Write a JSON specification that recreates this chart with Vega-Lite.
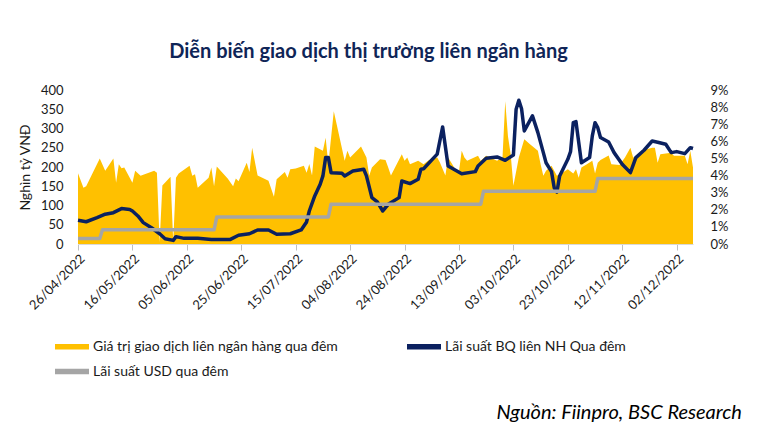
{
  "$schema": "https://vega.github.io/schema/vega-lite/v6.json",
  "padding": {"left": 18, "top": 42, "right": 5, "bottom": 5},
  "autosize": {"type": "pad"},
  "config": {"view": {"stroke": null}, "font": "Lato"},
  "datasets": {
    "vol": [
      {"date":"2022-04-26","value":184},{"date":"2022-04-28","value":146},{"date":"2022-04-29","value":150},
      {"date":"2022-05-04","value":222},{"date":"2022-05-06","value":190},{"date":"2022-05-09","value":222},
      {"date":"2022-05-10","value":159},{"date":"2022-05-11","value":207},{"date":"2022-05-12","value":197},
      {"date":"2022-05-13","value":199},{"date":"2022-05-16","value":159},{"date":"2022-05-17","value":190},
      {"date":"2022-05-19","value":177},{"date":"2022-05-24","value":190},{"date":"2022-05-25","value":185},
      {"date":"2022-05-26","value":5},{"date":"2022-05-27","value":152},{"date":"2022-05-30","value":175},
      {"date":"2022-05-31","value":5},{"date":"2022-06-01","value":172},{"date":"2022-06-02","value":183},
      {"date":"2022-06-06","value":203},{"date":"2022-06-07","value":177},{"date":"2022-06-08","value":181},
      {"date":"2022-06-09","value":146},{"date":"2022-06-13","value":172},{"date":"2022-06-14","value":199},
      {"date":"2022-06-15","value":150},{"date":"2022-06-16","value":201},{"date":"2022-06-20","value":170},
      {"date":"2022-06-22","value":150},{"date":"2022-06-23","value":170},{"date":"2022-06-24","value":163},
      {"date":"2022-06-27","value":211},{"date":"2022-06-28","value":187},{"date":"2022-06-29","value":250},
      {"date":"2022-07-01","value":178},{"date":"2022-07-05","value":164},{"date":"2022-07-07","value":123},
      {"date":"2022-07-08","value":168},{"date":"2022-07-11","value":187},{"date":"2022-07-12","value":172},
      {"date":"2022-07-13","value":194},{"date":"2022-07-15","value":196},{"date":"2022-07-18","value":203},
      {"date":"2022-07-19","value":185},{"date":"2022-07-20","value":208},{"date":"2022-07-21","value":178},
      {"date":"2022-07-22","value":253},{"date":"2022-07-25","value":242},{"date":"2022-07-26","value":276},
      {"date":"2022-07-27","value":207},{"date":"2022-07-29","value":345},{"date":"2022-08-02","value":216},
      {"date":"2022-08-03","value":242},{"date":"2022-08-04","value":225},{"date":"2022-08-05","value":232},
      {"date":"2022-08-08","value":253},{"date":"2022-08-10","value":225},{"date":"2022-08-11","value":177},
      {"date":"2022-08-12","value":199},{"date":"2022-08-15","value":220},{"date":"2022-08-17","value":218},
      {"date":"2022-08-18","value":199},{"date":"2022-08-19","value":178},{"date":"2022-08-23","value":233},
      {"date":"2022-08-24","value":216},{"date":"2022-08-25","value":225},{"date":"2022-08-26","value":207},
      {"date":"2022-08-29","value":216},{"date":"2022-08-31","value":207},{"date":"2022-09-02","value":218},
      {"date":"2022-09-05","value":225},{"date":"2022-09-06","value":212},{"date":"2022-09-08","value":178},
      {"date":"2022-09-09","value":225},{"date":"2022-09-12","value":190},{"date":"2022-09-13","value":188},
      {"date":"2022-09-14","value":242},{"date":"2022-09-15","value":225},{"date":"2022-09-16","value":216},
      {"date":"2022-09-20","value":229},{"date":"2022-09-21","value":216},{"date":"2022-09-23","value":229},
      {"date":"2022-09-27","value":216},{"date":"2022-09-29","value":225},{"date":"2022-09-30","value":371},
      {"date":"2022-10-01","value":280},{"date":"2022-10-02","value":233},{"date":"2022-10-03","value":151},
      {"date":"2022-10-05","value":225},{"date":"2022-10-07","value":272},{"date":"2022-10-09","value":260},
      {"date":"2022-10-12","value":242},{"date":"2022-10-13","value":207},{"date":"2022-10-14","value":177},
      {"date":"2022-10-15","value":190},{"date":"2022-10-17","value":203},{"date":"2022-10-19","value":177},
      {"date":"2022-10-21","value":185},{"date":"2022-10-23","value":194},{"date":"2022-10-25","value":183},
      {"date":"2022-10-26","value":194},{"date":"2022-10-27","value":172},{"date":"2022-10-28","value":199},
      {"date":"2022-10-30","value":207},{"date":"2022-11-01","value":216},{"date":"2022-11-02","value":183},
      {"date":"2022-11-03","value":211},{"date":"2022-11-04","value":218},{"date":"2022-11-07","value":230},
      {"date":"2022-11-08","value":207},{"date":"2022-11-11","value":205},{"date":"2022-11-13","value":225},
      {"date":"2022-11-15","value":250},{"date":"2022-11-16","value":225},{"date":"2022-11-18","value":229},
      {"date":"2022-11-19","value":242},{"date":"2022-11-23","value":250},{"date":"2022-11-24","value":250},
      {"date":"2022-11-25","value":211},{"date":"2022-11-26","value":233},{"date":"2022-11-30","value":237},
      {"date":"2022-12-01","value":229},{"date":"2022-12-05","value":229},{"date":"2022-12-06","value":207},
      {"date":"2022-12-07","value":242},{"date":"2022-12-08","value":199}
    ],
    "rate": [
      {"date":"2022-04-26","rate":1.39,"series":"Lãi suất BQ liên NH Qua đêm"},
      {"date":"2022-04-29","rate":1.30,"series":"Lãi suất BQ liên NH Qua đêm"},
      {"date":"2022-05-03","rate":1.54,"series":"Lãi suất BQ liên NH Qua đêm"},
      {"date":"2022-05-06","rate":1.74,"series":"Lãi suất BQ liên NH Qua đêm"},
      {"date":"2022-05-09","rate":1.83,"series":"Lãi suất BQ liên NH Qua đêm"},
      {"date":"2022-05-12","rate":2.07,"series":"Lãi suất BQ liên NH Qua đêm"},
      {"date":"2022-05-15","rate":2.02,"series":"Lãi suất BQ liên NH Qua đêm"},
      {"date":"2022-05-16","rate":1.93,"series":"Lãi suất BQ liên NH Qua đêm"},
      {"date":"2022-05-18","rate":1.64,"series":"Lãi suất BQ liên NH Qua đêm"},
      {"date":"2022-05-20","rate":1.25,"series":"Lãi suất BQ liên NH Qua đêm"},
      {"date":"2022-05-23","rate":0.95,"series":"Lãi suất BQ liên NH Qua đêm"},
      {"date":"2022-05-26","rate":0.60,"series":"Lãi suất BQ liên NH Qua đêm"},
      {"date":"2022-05-28","rate":0.31,"series":"Lãi suất BQ liên NH Qua đêm"},
      {"date":"2022-05-31","rate":0.21,"series":"Lãi suất BQ liên NH Qua đêm"},
      {"date":"2022-06-01","rate":0.43,"series":"Lãi suất BQ liên NH Qua đêm"},
      {"date":"2022-06-04","rate":0.33,"series":"Lãi suất BQ liên NH Qua đêm"},
      {"date":"2022-06-09","rate":0.33,"series":"Lãi suất BQ liên NH Qua đêm"},
      {"date":"2022-06-14","rate":0.27,"series":"Lãi suất BQ liên NH Qua đêm"},
      {"date":"2022-06-21","rate":0.27,"series":"Lãi suất BQ liên NH Qua đêm"},
      {"date":"2022-06-24","rate":0.51,"series":"Lãi suất BQ liên NH Qua đêm"},
      {"date":"2022-06-28","rate":0.60,"series":"Lãi suất BQ liên NH Qua đêm"},
      {"date":"2022-07-01","rate":0.82,"series":"Lãi suất BQ liên NH Qua đêm"},
      {"date":"2022-07-05","rate":0.82,"series":"Lãi suất BQ liên NH Qua đêm"},
      {"date":"2022-07-08","rate":0.57,"series":"Lãi suất BQ liên NH Qua đêm"},
      {"date":"2022-07-13","rate":0.60,"series":"Lãi suất BQ liên NH Qua đêm"},
      {"date":"2022-07-17","rate":0.82,"series":"Lãi suất BQ liên NH Qua đêm"},
      {"date":"2022-07-19","rate":1.29,"series":"Lãi suất BQ liên NH Qua đêm"},
      {"date":"2022-07-20","rate":1.93,"series":"Lãi suất BQ liên NH Qua đêm"},
      {"date":"2022-07-22","rate":2.81,"series":"Lãi suất BQ liên NH Qua đêm"},
      {"date":"2022-07-24","rate":3.49,"series":"Lãi suất BQ liên NH Qua đêm"},
      {"date":"2022-07-25","rate":3.98,"series":"Lãi suất BQ liên NH Qua đêm"},
      {"date":"2022-07-26","rate":5.05,"series":"Lãi suất BQ liên NH Qua đêm"},
      {"date":"2022-07-27","rate":5.05,"series":"Lãi suất BQ liên NH Qua đêm"},
      {"date":"2022-07-28","rate":4.17,"series":"Lãi suất BQ liên NH Qua đêm"},
      {"date":"2022-08-01","rate":4.13,"series":"Lãi suất BQ liên NH Qua đêm"},
      {"date":"2022-08-02","rate":3.98,"series":"Lãi suất BQ liên NH Qua đêm"},
      {"date":"2022-08-05","rate":4.27,"series":"Lãi suất BQ liên NH Qua đêm"},
      {"date":"2022-08-09","rate":4.37,"series":"Lãi suất BQ liên NH Qua đêm"},
      {"date":"2022-08-10","rate":3.98,"series":"Lãi suất BQ liên NH Qua đêm"},
      {"date":"2022-08-12","rate":2.71,"series":"Lãi suất BQ liên NH Qua đêm"},
      {"date":"2022-08-14","rate":2.46,"series":"Lãi suất BQ liên NH Qua đêm"},
      {"date":"2022-08-16","rate":1.93,"series":"Lãi suất BQ liên NH Qua đêm"},
      {"date":"2022-08-18","rate":2.32,"series":"Lãi suất BQ liên NH Qua đêm"},
      {"date":"2022-08-22","rate":2.71,"series":"Lãi suất BQ liên NH Qua đêm"},
      {"date":"2022-08-23","rate":3.68,"series":"Lãi suất BQ liên NH Qua đêm"},
      {"date":"2022-08-26","rate":3.53,"series":"Lãi suất BQ liên NH Qua đêm"},
      {"date":"2022-08-29","rate":3.78,"series":"Lãi suất BQ liên NH Qua đêm"},
      {"date":"2022-08-30","rate":4.37,"series":"Lãi suất BQ liên NH Qua đêm"},
      {"date":"2022-08-31","rate":4.40,"series":"Lãi suất BQ liên NH Qua đêm"},
      {"date":"2022-09-05","rate":5.25,"series":"Lãi suất BQ liên NH Qua đêm"},
      {"date":"2022-09-07","rate":6.84,"series":"Lãi suất BQ liên NH Qua đêm"},
      {"date":"2022-09-09","rate":4.56,"series":"Lãi suất BQ liên NH Qua đêm"},
      {"date":"2022-09-14","rate":4.11,"series":"Lãi suất BQ liên NH Qua đêm"},
      {"date":"2022-09-19","rate":4.23,"series":"Lãi suất BQ liên NH Qua đêm"},
      {"date":"2022-09-20","rate":4.56,"series":"Lãi suất BQ liên NH Qua đêm"},
      {"date":"2022-09-23","rate":5.01,"series":"Lãi suất BQ liên NH Qua đêm"},
      {"date":"2022-09-27","rate":5.09,"series":"Lãi suất BQ liên NH Qua đêm"},
      {"date":"2022-09-30","rate":4.89,"series":"Lãi suất BQ liên NH Qua đêm"},
      {"date":"2022-10-03","rate":5.20,"series":"Lãi suất BQ liên NH Qua đêm"},
      {"date":"2022-10-04","rate":7.88,"series":"Lãi suất BQ liên NH Qua đêm"},
      {"date":"2022-10-05","rate":8.40,"series":"Lãi suất BQ liên NH Qua đêm"},
      {"date":"2022-10-06","rate":7.90,"series":"Lãi suất BQ liên NH Qua đêm"},
      {"date":"2022-10-07","rate":6.61,"series":"Lãi suất BQ liên NH Qua đêm"},
      {"date":"2022-10-10","rate":7.49,"series":"Lãi suất BQ liên NH Qua đêm"},
      {"date":"2022-10-12","rate":6.51,"series":"Lãi suất BQ liên NH Qua đêm"},
      {"date":"2022-10-14","rate":5.34,"series":"Lãi suất BQ liên NH Qua đêm"},
      {"date":"2022-10-15","rate":4.75,"series":"Lãi suất BQ liên NH Qua đêm"},
      {"date":"2022-10-17","rate":4.23,"series":"Lãi suất BQ liên NH Qua đêm"},
      {"date":"2022-10-18","rate":3.29,"series":"Lãi suất BQ liên NH Qua đêm"},
      {"date":"2022-10-19","rate":3.04,"series":"Lãi suất BQ liên NH Qua đêm"},
      {"date":"2022-10-20","rate":3.98,"series":"Lãi suất BQ liên NH Qua đêm"},
      {"date":"2022-10-23","rate":4.95,"series":"Lãi suất BQ liên NH Qua đêm"},
      {"date":"2022-10-24","rate":5.40,"series":"Lãi suất BQ liên NH Qua đêm"},
      {"date":"2022-10-25","rate":7.09,"series":"Lãi suất BQ liên NH Qua đêm"},
      {"date":"2022-10-26","rate":7.15,"series":"Lãi suất BQ liên NH Qua đêm"},
      {"date":"2022-10-28","rate":4.75,"series":"Lãi suất BQ liên NH Qua đêm"},
      {"date":"2022-10-31","rate":5.05,"series":"Lãi suất BQ liên NH Qua đêm"},
      {"date":"2022-11-01","rate":6.32,"series":"Lãi suất BQ liên NH Qua đêm"},
      {"date":"2022-11-02","rate":7.09,"series":"Lãi suất BQ liên NH Qua đêm"},
      {"date":"2022-11-03","rate":6.80,"series":"Lãi suất BQ liên NH Qua đêm"},
      {"date":"2022-11-04","rate":6.22,"series":"Lãi suất BQ liên NH Qua đêm"},
      {"date":"2022-11-07","rate":5.96,"series":"Lãi suất BQ liên NH Qua đêm"},
      {"date":"2022-11-09","rate":5.34,"series":"Lãi suất BQ liên NH Qua đêm"},
      {"date":"2022-11-12","rate":4.66,"series":"Lãi suất BQ liên NH Qua đêm"},
      {"date":"2022-11-15","rate":4.17,"series":"Lãi suất BQ liên NH Qua đêm"},
      {"date":"2022-11-17","rate":5.05,"series":"Lãi suất BQ liên NH Qua đêm"},
      {"date":"2022-11-20","rate":5.48,"series":"Lãi suất BQ liên NH Qua đêm"},
      {"date":"2022-11-23","rate":6.02,"series":"Lãi suất BQ liên NH Qua đêm"},
      {"date":"2022-11-25","rate":5.95,"series":"Lãi suất BQ liên NH Qua đêm"},
      {"date":"2022-11-28","rate":5.83,"series":"Lãi suất BQ liên NH Qua đêm"},
      {"date":"2022-11-30","rate":5.34,"series":"Lãi suất BQ liên NH Qua đêm"},
      {"date":"2022-12-02","rate":5.40,"series":"Lãi suất BQ liên NH Qua đêm"},
      {"date":"2022-12-05","rate":5.28,"series":"Lãi suất BQ liên NH Qua đêm"},
      {"date":"2022-12-07","rate":5.63,"series":"Lãi suất BQ liên NH Qua đêm"},
      {"date":"2022-12-08","rate":5.58,"series":"Lãi suất BQ liên NH Qua đêm"},
      {"date":"2022-04-26","rate":0.32,"series":"Lãi suất USD qua đêm"},
      {"date":"2022-05-04","rate":0.32,"series":"Lãi suất USD qua đêm"},
      {"date":"2022-05-05","rate":0.83,"series":"Lãi suất USD qua đêm"},
      {"date":"2022-06-15","rate":0.83,"series":"Lãi suất USD qua đêm"},
      {"date":"2022-06-16","rate":1.58,"series":"Lãi suất USD qua đêm"},
      {"date":"2022-07-27","rate":1.58,"series":"Lãi suất USD qua đêm"},
      {"date":"2022-07-28","rate":2.33,"series":"Lãi suất USD qua đêm"},
      {"date":"2022-09-21","rate":2.33,"series":"Lãi suất USD qua đêm"},
      {"date":"2022-09-22","rate":3.08,"series":"Lãi suất USD qua đêm"},
      {"date":"2022-11-02","rate":3.08,"series":"Lãi suất USD qua đêm"},
      {"date":"2022-11-03","rate":3.83,"series":"Lãi suất USD qua đêm"},
      {"date":"2022-12-08","rate":3.83,"series":"Lãi suất USD qua đêm"}
    ]
  },
  "title": {"text": "Nguồn: Fiinpro, BSC Research", "orient": "bottom", "anchor": "end", "font": "Lato", "fontSize": 20, "fontStyle": "italic", "fontWeight": "normal", "color": "#000000", "offset": 24, "dx": 14},
  "vconcat": [
    {
      "width": 615,
      "height": 154,
      "title": {"text": "Diễn biến giao dịch thị trường liên ngân hàng", "anchor": "middle", "font": "Lato", "fontSize": 20, "fontWeight": "bold", "color": "#0F2557", "offset": 22, "dx": -17},
      "encoding": {
        "x": {
          "field": "date", "type": "temporal",
          "scale": {"type": "utc", "nice": false, "domain": [{"year": 2022, "month": 4, "date": 26, "utc": true}, {"year": 2022, "month": 12, "date": 8, "utc": true}]},
          "axis": {
            "title": null, "grid": false, "format": "%d/%m/%Y", "labelAngle": -45, "labelFontSize": 13, "labelColor": "#1a1a1a",
            "labelOverlap": false, "labelFlush": false, "domainColor": "#D9D9D9", "tickColor": "#BFBFBF", "tickSize": 6, "labelPadding": 2,
            "values": [
              {"year": 2022, "month": 4, "date": 26, "utc": true},
              {"year": 2022, "month": 5, "date": 16, "utc": true},
              {"year": 2022, "month": 6, "date": 5, "utc": true},
              {"year": 2022, "month": 6, "date": 25, "utc": true},
              {"year": 2022, "month": 7, "date": 15, "utc": true},
              {"year": 2022, "month": 8, "date": 4, "utc": true},
              {"year": 2022, "month": 8, "date": 24, "utc": true},
              {"year": 2022, "month": 9, "date": 13, "utc": true},
              {"year": 2022, "month": 10, "date": 3, "utc": true},
              {"year": 2022, "month": 10, "date": 23, "utc": true},
              {"year": 2022, "month": 11, "date": 12, "utc": true},
              {"year": 2022, "month": 12, "date": 2, "utc": true}
            ]
          }
        }
      },
      "layer": [
        {
          "data": {"name": "vol"},
          "mark": {"type": "area", "opacity": 1},
          "encoding": {
            "y": {
              "field": "value", "type": "quantitative",
              "scale": {"domain": [0, 400], "nice": false},
              "axis": {"orient": "left", "title": "Nghìn tỷ VNĐ", "values": [0, 50, 100, 150, 200, 250, 300, 350, 400], "domain": false, "ticks": false, "tickSize": 0, "grid": false, "labelPadding": 15, "labelFontSize": 13, "labelColor": "#1a1a1a", "titleFontSize": 14, "titleFontWeight": "normal", "titleColor": "#1a1a1a", "titlePadding": 8}
            },
            "color": {
              "datum": "Giá trị giao dịch liên ngân hàng qua đêm", "type": "nominal",
              "scale": {"domain": ["Giá trị giao dịch liên ngân hàng qua đêm", "Lãi suất BQ liên NH Qua đêm", "Lãi suất USD qua đêm"], "range": ["#FFC000", "#0B2160", "#A5A5A5"]},
              "legend": {
                "title": null, "orient": "none", "legendX": -23, "legendY": 248, "direction": "horizontal", "columns": 2, "columnPadding": 69, "rowPadding": 9,
                "symbolType": "M-1,-0.32H3V0.32H-1Z",
                "symbolSize": 289, "symbolStrokeWidth": 0, "labelFont": "Lato", "labelFontSize": 14, "labelColor": "#1a1a1a", "labelOffset": 21, "labelLimit": 500, "padding": 0,
                "encode": {
                  "symbols": {
                    "shape": {"condition": {"test": "datum.value === 'Giá trị giao dịch liên ngân hàng qua đêm'", "value": "M-1,-0.47H2.9V0.47H-1Z"}, "value": "M-1,-0.24H3.2V0.24H-1Z"},
                    "opacity": {"value": 1}
                  }
                }
              }
            }
          }
        },
        {
          "data": {"name": "rate"},
          "mark": {"type": "line", "strokeWidth": 3.5, "strokeJoin": "round"},
          "encoding": {
            "y": {
              "field": "rate", "type": "quantitative",
              "scale": {"domain": [0, 9], "nice": false},
              "axis": {"orient": "right", "title": null, "values": [0, 1, 2, 3, 4, 5, 6, 7, 8, 9], "labelExpr": "datum.value + '%'", "domain": false, "ticks": false, "tickSize": 0, "grid": false, "labelPadding": 17, "labelFontSize": 13, "labelColor": "#1a1a1a"}
            },
            "color": {"field": "series", "type": "nominal", "legend": null}
          }
        }
      ],
      "resolve": {"scale": {"y": "independent"}}
    }
  ]
}
